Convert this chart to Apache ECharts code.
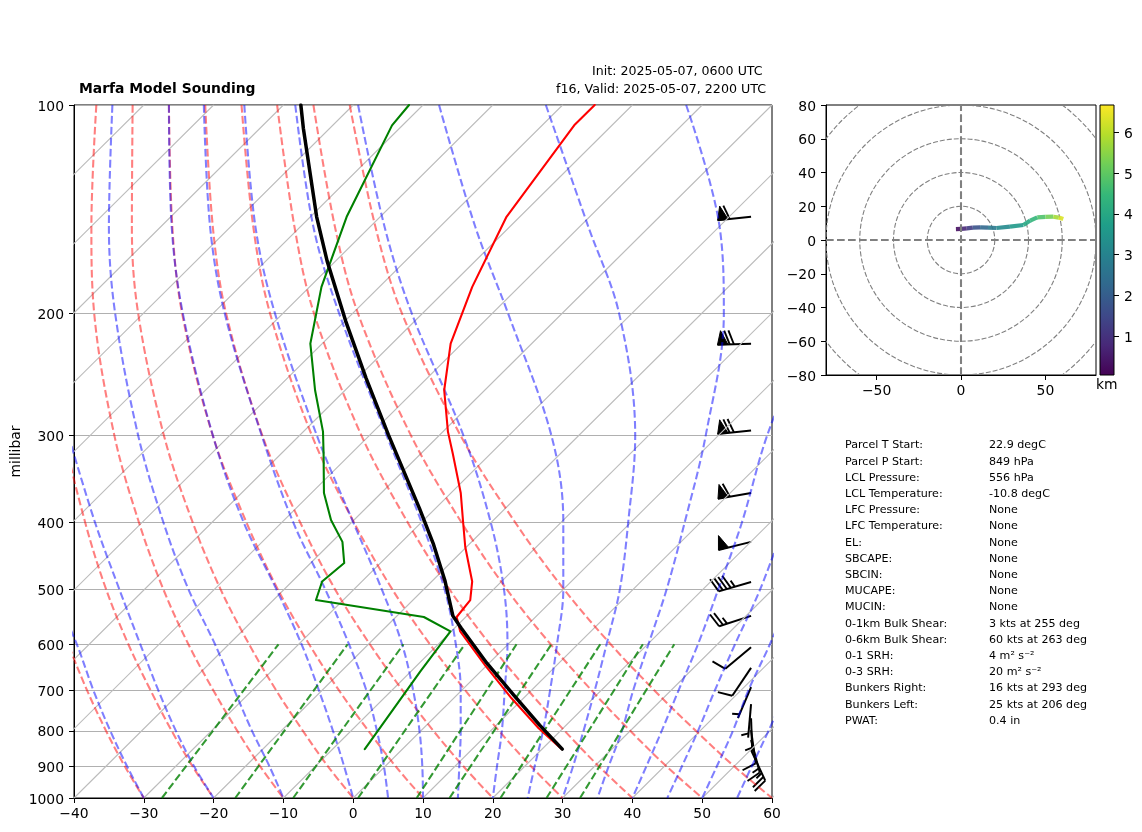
<!DOCTYPE html>
<html>
<head>
<meta charset="utf-8">
<title>Marfa Model Sounding</title>
<script src="https://cdn.jsdelivr.net/npm/echarts@6/dist/echarts.min.js"></script>
<style>
html, body { margin: 0; padding: 0; background: #fff; }
#chart { width: 1142px; height: 832px; }
</style>
</head>
<body>
<div id="chart"></div>
<script>
// pressure ticks and temperature axis
var pressureTicks = [100, 200, 300, 400, 500, 600, 700, 800, 900, 1000];
var isotherms = [-130, -120, -110, -100, -90, -80, -70, -60, -50, -40, -30, -20, -10, 0, 10, 20, 30, 40, 50, 60];

// levels the background curves were read at
var adiabatLevels = [100, 150, 200, 300, 400, 500, 600, 700, 800, 900, 1000];

// dry adiabats, temperature at each level
var dryAdiabats = [
    [-147.1, -131.6, -119.7, -100.7, -85.9, -73.7, -63.0, -53.6, -45.1, -37.3, -30],
    [-141.9, -125.8, -113.4, -93.6, -78.2, -65.5, -54.4, -44.5, -35.7, -27.6, -20],
    [-136.8, -119.9, -107.0, -86.5, -70.5, -57.3, -45.8, -35.5, -26.3, -17.9, -10],
    [-131.6, -114.1, -100.7, -79.4, -62.8, -49.1, -37.1, -26.5, -16.9, -8.2, 0],
    [-126.4, -108.3, -94.4, -72.4, -55.1, -40.9, -28.5, -17.5, -7.5, 1.5, 10],
    [-121.2, -102.5, -88.1, -65.3, -47.4, -32.7, -19.8, -8.4, 1.8, 11.2, 20],
    [-116.0, -96.7, -81.8, -58.2, -39.7, -24.5, -11.2, 0.6, 11.2, 20.9, 30],
    [-110.9, -90.8, -75.5, -51.1, -32.0, -16.3, -2.6, 9.6, 20.6, 30.6, 40],
    [-105.7, -85.0, -69.2, -44.0, -24.3, -8.1, 6.1, 18.7, 30.0, 40.3, 50],
    [-100.5, -79.2, -62.9, -36.9, -16.6, 0.1, 14.7, 27.7, 39.4, 50.0, 60]
];

// moist adiabats, as read on the slanted x axis; short ones cover the lowest levels only
var moistAdiabats = [
    [-43.0, -39.6, -37.2, -34.8, -32.4, -30.0],
    [-40.8, -37.0, -33.5, -30.5, -27.9, -25.4, -22.8, -20.0],
    [-34.5, -35.0, -34.1, -30.8, -27.2, -23.6, -19.8, -17.0, -14.5, -12.0, -10.0],
    [-26.4, -26.0, -24.4, -20.1, -15.7, -11.0, -7.4, -4.9, -2.9, -1.3, 0.0],
    [-21.4, -20.5, -18.4, -13.1, -8.6, -4.0, -0.6, 1.9, 3.4, 4.4, 5.0],
    [-15.6, -14.0, -11.2, -5.2, 0.0, 4.1, 7.0, 8.6, 9.5, 9.9, 10.0],
    [-8.3, -5.7, -2.0, 4.8, 9.8, 13.1, 14.7, 15.4, 15.4, 15.2, 15.0],
    [0.7, 4.5, 8.4, 15.8, 19.7, 21.6, 22.1, 21.7, 21.3, 20.6, 20.0],
    [12.3, 17.5, 22.2, 28.4, 30.1, 30.1, 29.2, 28.2, 27.2, 26.0, 25.0],
    [27.6, 33.7, 38.1, 40.4, 39.4, 38.2, 36.3, 34.6, 33.0, 31.5, 30.0],
    [47.7, 52.5, 53.1, 50.5, 47.5, 44.9, 42.3, 40.1, 38.5, 36.6, 35.0],
    [66.2, 59.3, 55.7, 52.3, 49.4, 46.6, 44.2, 42.0, 40.0],
    [61.9, 58.3, 54.7, 51.8, 49.4, 47.1, 45.0],
    [63.0, 59.7, 56.6, 54.4, 52.1, 50.0],
    [62.1, 59.5, 57.1, 55.0]
];

// mixing ratio lines, slanted x reading at both ends
var mixingAt1000 = [-27.4, -16.9, -8.6, 0.7, 9.1, 13.8, 21.1, 27.7, 32.5];
var mixingAt600 = [-10.7, -0.8, 7.2, 16.0, 23.4, 28.4, 35.4, 41.5, 46.0];

// sounding
var tempLevels = [100, 107, 145, 183, 221, 258, 296, 318, 363, 397, 434, 458, 487, 518, 548, 575, 643, 718, 793, 838, 850];
var temperature = [-65.4, -65.4, -61.9, -56.7, -51.6, -45.8, -39.3, -35.5, -28.6, -24.4, -20.2, -17.4, -14.2, -11.8, -11.3, -8.7, -0.3, 8.3, 16.5, 21.5, 22.8];
var dewLevels = [100, 107, 145, 183, 221, 258, 296, 318, 363, 397, 427, 458, 487, 518, 548, 575, 657, 850];
var dewpoint = [-92.0, -91.5, -84.8, -78.3, -71.7, -64.3, -57.2, -54.0, -48.2, -43.3, -38.5, -35.2, -35.7, -33.9, -16.0, -10.1, -8.65, -5.4];
var parcelLevels = [100, 108, 145, 168, 205, 248, 299, 382, 429, 485, 546, 569, 639, 710, 785, 850];
var parcel = [-107.5, -103.8, -89.1, -81.2, -69.9, -58.7, -47.4, -32.3, -25.3, -18.3, -12.0, -9.0, -0.3, 8.1, 16.2, 22.9];

// wind barbs
var barbLevels = [145, 221, 295, 363, 427, 488, 546, 606, 649, 692, 732, 767, 798, 825, 853];
var barbSpeeds = [60, 70, 70, 60, 50, 45, 25, 10, 10, 5, 5, 5, 10, 15, 25];
var barbDirs = [264, 268, 264, 260, 256, 254, 252, 230, 214, 203, 185, 178, 172, 165, 155];

// hodograph
var hodoU = [-3, 0, 3.4, 7, 11.3, 16, 21, 29, 37, 41, 45.2, 50, 54.7, 58, 60.6];
var hodoV = [6.5, 6.6, 6.9, 7.3, 7.5, 7.3, 7.1, 7.9, 8.9, 11.5, 13.4, 13.7, 13.8, 13.3, 12.4];
var hodoKm = [0.1, 0.6, 1.0, 1.5, 2, 2.5, 3, 3.4, 3.8, 4.2, 4.6, 5, 5.5, 6, 6.6];
var hodoRings = [20, 40, 60, 80, 100];
var kmRange = [0.06, 6.66];
var viridis = ['#440154', '#482878', '#3e4989', '#31688e', '#26828e', '#1f9e89', '#35b779', '#6ece58', '#b5de2b', '#fde725'];

// parcel table
var statNames = ['Parcel T Start:', 'Parcel P Start:', 'LCL Pressure:', 'LCL Temperature:', 'LFC Pressure:', 'LFC Temperature:', 'EL:', 'SBCAPE:', 'SBCIN:', 'MUCAPE:', 'MUCIN:', '0-1km Bulk Shear:', '0-6km Bulk Shear:', '0-1 SRH:', '0-3 SRH:', 'Bunkers Right:', 'Bunkers Left:', 'PWAT:'];
var statValues = ['22.9 degC', '849 hPa', '556 hPa', '-10.8 degC', 'None', 'None', 'None', 'None', 'None', 'None', 'None', '3 kts at 255 deg', '60 kts at 263 deg', '4 m² s⁻²', '20 m² s⁻²', '16 kts at 293 deg', '25 kts at 206 deg', '0.4 in'];

var FONT = '"DejaVu Sans"';
var SKEW = 100;      // x shift per decade of pressure
var BARB_X = 57;

function skew(t, p) {
    return t + SKEW * Math.log10(1000 / p);
}
function minus(v) {
    return String(v).replace('-', '−');
}

var series = [];
function addLine(points, color, width, dashed, smooth, axis) {
    series.push({
        type: 'line',
        xAxisIndex: axis || 0,
        yAxisIndex: axis || 0,
        data: points,
        symbol: 'none',
        smooth: smooth ? 0.35 : false,
        silent: true,
        lineStyle: { color: color, width: width, type: dashed ? [7.7, 3.3] : 'solid', cap: dashed ? 'butt' : 'round', join: 'round' }
    });
}

isotherms.forEach(function (t) {
    addLine([[t, 1000], [t + SKEW, 100]], '#bdbdbd', 1.1);
});
dryAdiabats.forEach(function (temps) {
    addLine(temps.map(function (t, i) {
        return [skew(t, adiabatLevels[i]), adiabatLevels[i]];
    }), 'rgba(255,0,0,0.5)', 2.08, true, true);
});
moistAdiabats.forEach(function (xs) {
    var levels = adiabatLevels.slice(-xs.length);
    addLine(xs.map(function (x, i) {
        return [x, levels[i]];
    }), 'rgba(0,0,255,0.5)', 2.08, true, true);
});
mixingAt1000.forEach(function (x, i) {
    addLine([[x, 1000], [mixingAt600[i], 600]], 'rgba(0,128,0,0.8)', 2.08, true);
});
addLine(temperature.map(function (t, i) { return [skew(t, tempLevels[i]), tempLevels[i]]; }), '#ff0000', 2.08);
addLine(dewpoint.map(function (t, i) { return [skew(t, dewLevels[i]), dewLevels[i]]; }), '#008000', 2.08);
addLine(parcel.map(function (t, i) { return [skew(t, parcelLevels[i]), parcelLevels[i]]; }), '#000000', 3.5);

// wind barbs, tip at the data point and staff pointing where the wind comes from
series.push({
    type: 'custom',
    xAxisIndex: 0,
    yAxisIndex: 0,
    silent: true,
    clip: false,
    encode: { x: 0, y: 1 },
    data: barbLevels.map(function (p, i) { return [BARB_X, p, barbSpeeds[i], barbDirs[i]]; }),
    renderItem: function (params, api) {
        var tip = api.coord([api.value(0), api.value(1)]);
        var speed = api.value(2);
        var rad = api.value(3) * Math.PI / 180;
        var ax = Math.sin(rad), ay = -Math.cos(rad);
        var nx = -ay, ny = ax;
        var len = 33.6, high = 14, lean = 5, gap = 4.2, base = 10.5;
        function at(s, h) {
            return [tip[0] + ax * s + nx * h, tip[1] + ay * s + ny * h];
        }
        var kids = [{
            type: 'polyline',
            shape: { points: [at(0, 0), at(len, 0)] },
            style: { stroke: '#000', lineWidth: 2, fill: null }
        }];
        var s = len;
        var flags = Math.floor(speed / 50);
        var full = Math.floor((speed - flags * 50) / 10);
        var half = (speed - flags * 50 - full * 10) >= 5;
        if (!flags && !full) { s -= gap; }
        for (var i = 0; i < flags; i++) {
            kids.push({
                type: 'polygon',
                shape: { points: [at(s, 0), at(s - base, 0), at(s - 3.5, high)] },
                style: { fill: '#000', stroke: '#000', lineWidth: 1 }
            });
            s -= base + 1.7;
        }
        for (var j = 0; j < full; j++) {
            kids.push({
                type: 'polyline',
                shape: { points: [at(s, 0), at(s + lean, high)] },
                style: { stroke: '#000', lineWidth: 1.9, fill: null }
            });
            s -= gap;
        }
        if (half) {
            kids.push({
                type: 'polyline',
                shape: { points: [at(s, 0), at(s + lean / 2, high / 2)] },
                style: { stroke: '#000', lineWidth: 1.9, fill: null }
            });
        }
        return { type: 'group', children: kids };
    }
});

// hodograph rings, cross and trace
series.push({
    type: 'custom',
    xAxisIndex: 1,
    yAxisIndex: 1,
    silent: true,
    clip: true,
    encode: { x: 0, y: 1 },
    data: hodoRings.map(function (r) { return [0, 0, r]; }),
    renderItem: function (params, api) {
        var c = api.coord([0, 0]);
        var r = api.size([api.value(2), 0])[0];
        return {
            type: 'circle',
            shape: { cx: c[0], cy: c[1], r: r },
            style: { fill: null, stroke: '#808080', lineWidth: 1.1, lineDash: [5, 2] }
        };
    }
});
addLine([[-80, 0], [80, 0]], '#808080', 2.08, true, false, 1);
addLine([[0, -80], [0, 80]], '#808080', 2.08, true, false, 1);

function kmColor(km) {
    return echarts.color.lerp((km - kmRange[0]) / (kmRange[1] - kmRange[0]), viridis);
}
series.push({
    type: 'custom',
    xAxisIndex: 1,
    yAxisIndex: 1,
    silent: true,
    clip: true,
    encode: { x: 0, y: 1 },
    data: hodoU.map(function (u, i) { return [u, hodoV[i], hodoKm[i]]; }),
    renderItem: function (params, api) {
        var i = params.dataIndex;
        if (i === 0) { return null; }
        return {
            type: 'line',
            shape: {
                x1: api.coord([hodoU[i - 1], hodoV[i - 1]])[0],
                y1: api.coord([hodoU[i - 1], hodoV[i - 1]])[1],
                x2: api.coord([hodoU[i], hodoV[i]])[0],
                y2: api.coord([hodoU[i], hodoV[i]])[1]
            },
            style: { stroke: kmColor((hodoKm[i - 1] + hodoKm[i]) / 2), lineWidth: 4.2, lineCap: 'butt', opacity: 0.9 }
        };
    }
});

// colour bar
series.push({
    type: 'custom',
    xAxisIndex: 2,
    yAxisIndex: 2,
    silent: true,
    encode: { x: 0, y: 1 },
    data: [[0, kmRange[0]]],
    renderItem: function (params, api) {
        var a = api.coord([0, kmRange[0]]);
        var b = api.coord([1, kmRange[1]]);
        var stops = viridis.map(function (c, i) {
            return { offset: i / (viridis.length - 1), color: c };
        });
        return {
            type: 'rect',
            shape: { x: a[0], y: b[1], width: b[0] - a[0], height: a[1] - b[1] },
            style: { fill: new echarts.graphic.LinearGradient(0, 1, 0, 0, stops), stroke: '#000', lineWidth: 1 }
        };
    }
});

var labelStyle = { color: '#000', fontFamily: FONT, fontSize: 13.9 };
var sideLabel = { verticalAlign: 'top', lineHeight: 4 };   // nudges the y labels down a little
var lineBlack = { onZero: false, lineStyle: { color: '#000', width: 1 } };
var tickBlack = { length: 5, lineStyle: { color: '#000', width: 1 } };

// text around the plots
var graphics = [
    { type: 'text', left: 79, top: 82, style: { text: 'Marfa Model Sounding', font: 'bold 13.9px ' + FONT, fill: '#000' } },
    { type: 'text', left: 592, top: 65, style: { text: 'Init: 2025-05-07, 0600 UTC', font: '12.6px ' + FONT, fill: '#000' } },
    { type: 'text', left: 556, top: 83, style: { text: 'f16, Valid: 2025-05-07, 2200 UTC', font: '12.65px ' + FONT, fill: '#000' } },
    { type: 'text', left: 1096, top: 378, style: { text: 'km', font: '13.9px ' + FONT, fill: '#000' } }
];
statNames.forEach(function (name, i) {
    graphics.push({ type: 'text', left: 845, top: 440 + i * 16.2, style: { text: name, font: '11.1px ' + FONT, fill: '#000' } });
    graphics.push({ type: 'text', left: 989, top: 440 + i * 16.2, style: { text: statValues[i], font: '11.1px ' + FONT, fill: '#000' } });
});

var myChart = echarts.init(document.getElementById('chart'), null, { renderer: 'canvas' });
myChart.setOption({
    animation: false,
    backgroundColor: '#fff',
    textStyle: { fontFamily: FONT },
    graphic: graphics,
    grid: [
        { left: 74, top: 105, width: 698, height: 693, show: true, borderColor: '#000', borderWidth: 1, backgroundColor: 'transparent', outerBoundsMode: 'none' },
        { left: 826, top: 105, width: 270, height: 270, show: true, borderColor: '#000', borderWidth: 1, backgroundColor: 'transparent', outerBoundsMode: 'none' },
        { left: 1100, top: 105, width: 14, height: 270, outerBoundsMode: 'none' }
    ],
    xAxis: [
        {
            gridIndex: 0, type: 'value', min: -40, max: 60, interval: 10,
            axisLine: lineBlack, axisTick: tickBlack, splitLine: { show: false },
            axisLabel: Object.assign({ margin: 9, formatter: minus }, labelStyle)
        },
        {
            gridIndex: 1, type: 'value', min: -80, max: 80,
            axisLine: lineBlack, splitLine: { show: false },
            axisTick: Object.assign({ customValues: [-50, 0, 50] }, tickBlack),
            axisLabel: Object.assign({ margin: 9, customValues: [-50, 0, 50], formatter: minus }, labelStyle)
        },
        { gridIndex: 2, type: 'value', min: 0, max: 1, show: false }
    ],
    yAxis: [
        {
            gridIndex: 0, type: 'log', logBase: 10, min: 100, max: 1000, inverse: true,
            name: 'millibar', nameLocation: 'middle', nameGap: 51, nameMoveOverlap: false,
            nameTextStyle: labelStyle,
            axisLine: lineBlack,
            axisTick: Object.assign({ customValues: pressureTicks }, tickBlack),
            axisLabel: Object.assign({ margin: 10, customValues: pressureTicks, formatter: function (v) { return String(v); } }, labelStyle, sideLabel),
            splitLine: { show: true, lineStyle: { color: '#b0b0b0', width: 1 } },
            minorTick: { show: false }
        },
        {
            gridIndex: 1, type: 'value', min: -80, max: 80, interval: 20,
            axisLine: lineBlack, axisTick: tickBlack, splitLine: { show: false },
            axisLabel: Object.assign({ margin: 10, formatter: minus, showMinLabel: true, showMaxLabel: true }, labelStyle, sideLabel)
        },
        {
            gridIndex: 2, type: 'value', position: 'right', min: kmRange[0], max: kmRange[1],
            axisLine: { show: false, onZero: false }, splitLine: { show: false },
            axisTick: Object.assign({ customValues: [1, 2, 3, 4, 5, 6] }, tickBlack),
            axisLabel: Object.assign({ margin: 10, customValues: [1, 2, 3, 4, 5, 6] }, labelStyle, sideLabel)
        }
    ],
    series: series
});
</script>
</body>
</html>
